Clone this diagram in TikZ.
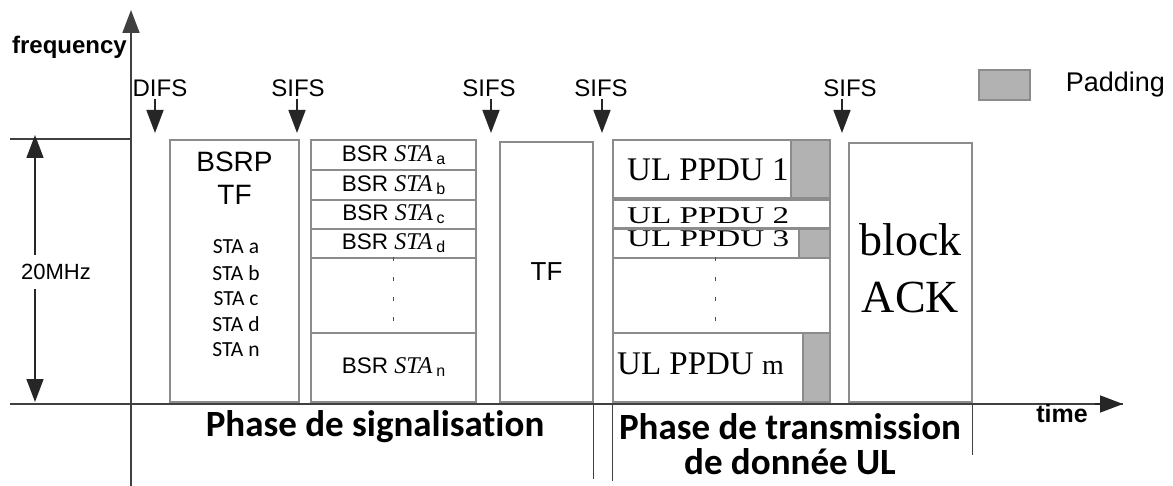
\documentclass[tikz,border=0pt]{standalone}
\usepackage{fontspec}
\usepackage{graphicx}
\setmainfont{Liberation Serif}
\setsansfont{Liberation Sans}
\newfontfamily\calib[Ligatures=NoCommon]{Carlito}
\usetikzlibrary{arrows.meta, positioning}

\newcommand{\bsrlbl}[1]{BSR {\rmfamily\itshape\fontsize{24}{24}\selectfont STA}\,\raisebox{-3pt}{\fontsize{16}{16}\selectfont #1}}

\begin{document}
\begin{tikzpicture}[x=1pt, y=-1pt, >={Triangle[length=23pt, width=17pt]},
  box/.style={draw=black!45, line width=1.3pt, inner sep=0pt},
  pad/.style={draw=black!45, fill=black!30, line width=1.3pt, inner sep=0pt},
  axis/.style={draw=black!75, line width=1.8pt},
  arr/.style={draw=black!85, line width=1.6pt, ->},
  lab/.style={font=\sffamily\fontsize{24}{26}\selectfont, inner sep=2pt},
  ppdu/.style={font=\rmfamily\fontsize{33}{36}\selectfont, inner sep=0pt, anchor=west},
  phase/.style={font=\calib\bfseries\fontsize{37}{35}\selectfont, align=center}]
  \useasboundingbox (0,0) rectangle (1173,486);

  % axes
  \coordinate (o) at (131,404);
  \draw[axis] (10,139) -- (131,139);
  \draw[axis] (10,404) -- (1123,404) coordinate (tend);
  \draw[axis, ->] (131,486) -- (131,10);
  \draw[arr] (1095,404) -- (tend);
  \node[font=\sffamily\bfseries\fontsize{24}{26}\selectfont, anchor=base east, inner sep=0pt] (freq) at (127,54) {frequency};
  \node[font=\sffamily\bfseries\fontsize{25}{26}\selectfont] (timel) at (1062,414) {time};

  % bandwidth
  \node[lab, font=\sffamily\fontsize{22}{26}\selectfont, inner ysep=9pt] (mhz) at (56,272) {20MHz};
  \coordinate (mhzU) at (35,135);
  \coordinate (mhzD) at (35,402);
  \draw[arr] (mhz.north -| mhzU) -- (mhzU);
  \draw[arr] (mhz.south -| mhzD) -- (mhzD);

  % interframe spaces
  \foreach \n/\x/\t/\tx in {difs/160/DIFS/155, sifsa/298/SIFS/297, sifsb/489/SIFS/491,
                             sifsc/601/SIFS/602, sifsd/850/SIFS/842} {
    \node[lab] (\n) at (\x,88) {\t};
    \coordinate (\n T) at (\tx,133);
    \draw[arr] (\n.south -| \n T) -- (\n T);
  }

  % trigger frame BSRP
  \node[box, minimum width=129pt, minimum height=262pt] (bsrp) at (234.5,271) {};
  \node[font=\sffamily\fontsize{28}{33}\selectfont, align=center] (bsrpt) at (234.5,178) {BSRP\\TF};
  \foreach \s [count=\k] in {a,b,c,d,n}
    \node[font=\calib\fontsize{21.5}{22}\selectfont, inner sep=0pt] (sta\s) at (236,{247+25.7*(\k-1)}) {STA \s};

  % BSR answers
  \foreach \s/\y/\h in {a/155/30, b/185/30, c/214.5/29, d/243.5/29}
    \node[box, font=\sffamily\fontsize{22.5}{24}\selectfont, minimum width=165pt, minimum height=\h pt] (bsr\s) at (393.5,\y) {\bsrlbl{\s}};
  \node[box, minimum width=165pt, minimum height=75pt] (bsrdots) at (393.5,295.5) {};
  \draw[black!70, line width=1pt, dash pattern=on 4pt off 16pt] (bsrdots.north) -- (bsrdots.south);
  \node[box, font=\sffamily\fontsize{22.5}{24}\selectfont, minimum width=165pt, minimum height=69pt] (bsrn) at (393.5,367.5) {\bsrlbl{n}};

  % trigger frame
  \node[box, minimum width=93pt, minimum height=260pt] (tf) at (546.5,272) {};
  \node[font=\sffamily\fontsize{26}{30}\selectfont] (tft) at (tf.center) {TF};

  % UL PPDUs
  \node[box, minimum width=217pt, minimum height=58pt] (ula) at (721.5,169) {};
  \node[box, minimum width=217pt, minimum height=28pt] (ulb) at (721.5,214) {};
  \node[box, minimum width=217pt, minimum height=29pt] (ulc) at (721.5,243.5) {};
  \node[box, minimum width=217pt, minimum height=75pt] (uldots) at (721.5,295.5) {};
  \node[box, minimum width=217pt, minimum height=69pt] (ulm) at (721.5,367.5) {};
  \draw[black!70, line width=1pt, dash pattern=on 4pt off 16pt] ([xshift=-6pt]uldots.north) -- ([xshift=-6pt]uldots.south);
  \node[pad, anchor=north east, minimum width=39pt, minimum height=58pt] (pada) at (ula.north east) {};
  \node[pad, anchor=north east, minimum width=31pt, minimum height=29pt] (padc) at (ulc.north east) {};
  \node[pad, anchor=north east, minimum width=27pt, minimum height=69pt] (padm) at (ulm.north east) {};
  \node[ppdu] (ulat) at (627,170) {UL PPDU 1};
  \node[ppdu, font=\rmfamily\fontsize{24}{26}\selectfont] (ulbt) at (627,216) {\scalebox{1.38}[1]{UL PPDU 2}};
  \node[ppdu, font=\rmfamily\fontsize{24}{26}\selectfont] (ulct) at (627,239) {\scalebox{1.38}[1]{UL PPDU 3}};
  \node[ppdu] (ulmt) at (617,364) {UL PPDU {\fontsize{28}{30}\selectfont m}};

  % block ack
  \node[box, minimum width=123pt, minimum height=259pt] (ack) at (910.5,272.5) {};
  \node[font=\rmfamily\fontsize{46}{57}\selectfont, align=center] (ackt) at (910.5,268.5) {block\\ACK};

  % legend
  \node[pad, minimum width=51pt, minimum height=30pt] (legpad) at (1004.5,85) {};
  \node[lab, font=\sffamily\fontsize{27}{28}\selectfont, right=33pt of legpad] (legtxt) {Padding};

  % phases
  \draw[axis, line width=1.3pt] (tf.south east) -- ++(0,76);
  \draw[axis, line width=1.3pt] (ulm.south west) -- ++(0,78);
  \draw[axis, line width=1.3pt] (ack.south east) -- ++(0,52);
  \node[phase] (sig) at (375,427) {Phase de signalisation};
  \node[phase] (trans) at (790,444) {Phase de transmission\\de donnée UL};
\end{tikzpicture}
\end{document}
